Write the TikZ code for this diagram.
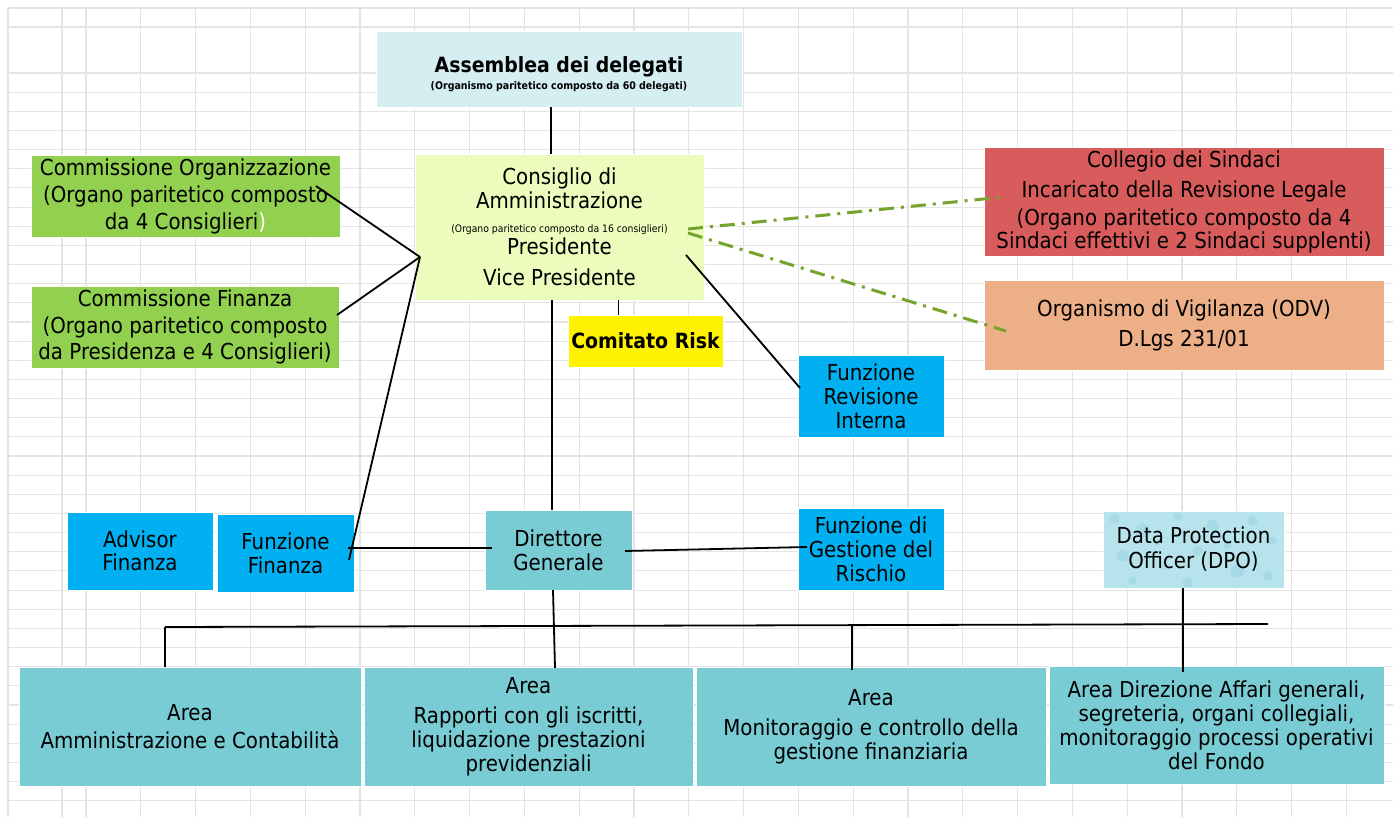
\documentclass[tikz,border=0pt]{standalone}
\usepackage{fontspec}
\setmainfont{DejaVu Sans}[FakeStretch=0.9]
\usetikzlibrary{calc}
\definecolor{gridc}{HTML}{E4E4E4}
\definecolor{asmc}{HTML}{D4EEF2}
\definecolor{cdac}{HTML}{EBFCBC}
\definecolor{comc}{HTML}{92D050}
\definecolor{func}{HTML}{00B0F0}
\definecolor{colc}{HTML}{D95C5C}
\definecolor{odvc}{HTML}{ECAF87}
\definecolor{areac}{HTML}{79CCD4}
\definecolor{dpoc}{HTML}{B7E3EC}
\definecolor{dpod}{HTML}{A6DAE6}
\definecolor{ctlc}{HTML}{76A32B}
\newcommand\fsz[2]{\fontsize{#1}{#2}\selectfont}
\begin{document}
\begin{tikzpicture}[x=1pt,y=-1pt,
  box/.style={rectangle, draw=white, line width=0.8pt, inner sep=0pt, align=center, text=black, font=\fsz{22}{24}},
  txt/.style={inner sep=0pt, align=center, text=black},
  gridline/.style={gridc, line width=1.1pt},
  conn/.style={black, line width=1.8pt},
  ctl/.style={ctlc, line width=3pt, dash pattern=on 15pt off 7pt on 3pt off 7pt}]
\useasboundingbox (0,0) rectangle (1393,817);
\fill[white] (0,0) rectangle (1393,817);
% spreadsheet grid
\foreach \x in {8,62} \draw[gridline] (\x,8) -- (\x,817);
\foreach \i in {0,...,23} \draw[gridline] ({86+54.8*\i},8) -- ({86+54.8*\i},817);
\foreach \y in {8,27} \draw[gridline] (8,\y) -- (1393,\y);
\foreach \i in {0,...,38} \draw[gridline] (8,{73+19.15*\i}) -- (1393,{73+19.15*\i});

% boxes
\node[box, fill=asmc, minimum width=366pt, minimum height=76pt] (asm) at (559,69) {};
\node[txt] (asmt) at (559,74) {{\fsz{21}{24}\bfseries Assemblea dei delegati}\\[3pt]{\fsz{10.5}{12}\bfseries (Organismo paritetico composto da 60 delegati)}};
\node[box, fill=cdac, minimum width=289pt, minimum height=146pt] (cda) at (559.5,227)
  {Consiglio di\\Amministrazione\\{\fsz{10.3}{12}(Organo paritetico composto da 16 consiglieri)}\\[-2pt]Presidente\\[7pt]Vice Presidente};
\node[box, fill=comc, minimum width=309pt, minimum height=82pt, font=\fsz{22}{27}] (cor) at (185.5,196)
  {Commissione Organizzazione\\(Organo paritetico composto\\da 4 Consiglieri\textcolor{white}{)}};
\node[box, fill=comc, minimum width=308pt, minimum height=82pt, font=\fsz{22}{26.5}] (cfi) at (185,327)
  {Commissione Finanza\\(Organo paritetico composto\\da Presidenza e 4 Consiglieri)};
\node[box, fill=yellow, minimum width=155pt, minimum height=52pt, font=\fsz{21}{24}\bfseries] (risk) at (645.5,341) {Comitato Risk};
\node[box, fill=func, minimum width=146pt, minimum height=82pt] (rev) at (871,396) {Funzione\\Revisione\\Interna};
\node[box, fill=colc, minimum width=400pt, minimum height=109pt, font=\fsz{22}{23}] (col) at (1184,201.5)
  {Collegio dei Sindaci\\[7pt]Incaricato della Revisione Legale\\[5pt](Organo paritetico composto da 4\\Sindaci effettivi e 2 Sindaci supplenti)};
\node[box, fill=odvc, minimum width=400pt, minimum height=90pt, font=\fsz{22}{30}] (odv) at (1184,325)
  {Organismo di Vigilanza (ODV)\\D.Lgs 231/01};
\node[box, fill=func, minimum width=146pt, minimum height=78pt, font=\fsz{22}{23}] (adv) at (140,551) {Advisor\\Finanza};
\node[box, fill=func, minimum width=137pt, minimum height=78pt] (ffi) at (285.5,553) {Funzione\\Finanza};
\node[box, fill=areac, minimum width=147pt, minimum height=80pt] (dg) at (558.5,550) {Direttore\\Generale};
\node[box, fill=func, minimum width=146pt, minimum height=82pt] (ges) at (871,549) {Funzione di\\Gestione del\\Rischio};
\node[box, fill=dpoc, minimum width=181pt, minimum height=77pt] (dpo) at (1193.5,549.5) {};
\begin{scope}
  \clip (dpo.north west) rectangle (dpo.south east);
  \foreach \dx/\dy/\r in {12/8/5, 40/20/7, 75/6/4, 110/15/6, 150/10/5, 170/30/4, 20/45/6, 60/55/4, 95/40/5, 135/60/7, 165/65/5, 30/70/4, 85/72/5, 125/35/4, 55/32/3, 145/42/3}
    \fill[dpod] ($(dpo.north west)+(\dx,\dy)$) circle[radius=\r];
\end{scope}
\node[txt, font=\fsz{22}{25}] (dpot) at (dpo.center) {Data Protection\\Officer (DPO)};
\node[box, fill=areac, minimum width=342pt, minimum height=119pt, font=\fsz{22}{28}] (a1) at (190,726.5) {Area\\Amministrazione e Contabilità};
\node[box, fill=areac, minimum width=329pt, minimum height=119pt] (a2) at (528.5,726.5)
  {Area\\[6pt]Rapporti con gli iscritti,\\liquidazione prestazioni\\previdenziali};
\node[box, fill=areac, minimum width=350pt, minimum height=119pt] (a3) at (871,726.5)
  {Area\\[6pt]Monitoraggio e controllo della\\gestione finanziaria};
\node[box, fill=areac, minimum width=335pt, minimum height=118pt] (a4) at (1216.5,725)
  {Area Direzione Affari generali,\\segreteria, organi collegiali,\\monitoraggio processi operativi\\del Fondo};

% connector points
\coordinate (xa) at (551,0);
\coordinate (xc) at (552,0);
\coordinate (xr) at (618.5,0);
\coordinate (hub) at (420,257);
\coordinate (corE) at (316,186);
\coordinate (cfiE) at (337,315);
\coordinate (ffiE) at (349,560);
\coordinate (ffiH) at (348,548);
\coordinate (dgW) at (492,548);
\coordinate (dgE) at (625,551);
\coordinate (gesW) at (807,547);
\coordinate (cdaR) at (686,255);
\coordinate (revW) at (800,388);
\coordinate (cdaG1) at (688,229);
\coordinate (colW) at (1003,197);
\coordinate (cdaG2) at (688,233);
\coordinate (odvW) at (1006,331);
\coordinate (busL) at (165,627);
\coordinate (busR) at (1268,624);
\coordinate (dgS) at (553,590);
\coordinate (a2N) at (555,668);
\coordinate (busM) at (852,625.5);
\coordinate (a3N) at (852,670);
\coordinate (dpoS) at (1183,588);
\coordinate (a4N) at (1183,672);

% connectors
\draw[conn] (asm.south -| xa) -- (cda.north -| xa);
\draw[conn] (cda.south -| xc) -- (dg.north -| xc);
\draw[conn] (cda.south -| xr) -- (risk.north -| xr);
\draw[conn] (cdaR) -- (revW);
\draw[conn] (corE) -- (hub);
\draw[conn] (cfiE) -- (hub);
\draw[conn] (ffiE) -- (hub);
\draw[conn] (ffiH) -- (dgW);
\draw[conn] (dgE) -- (gesW);
\draw[conn] (busL) -- (busR);
\draw[conn] (busL) -- (busL |- a1.north);
\draw[conn] (dgS) -- (a2N);
\draw[conn] (busM) -- (a3N);
\draw[conn] (dpoS) -- (a4N);
\draw[ctl] (cdaG1) -- (colW);
\draw[ctl] (cdaG2) -- (odvW);
\end{tikzpicture}
\end{document}
